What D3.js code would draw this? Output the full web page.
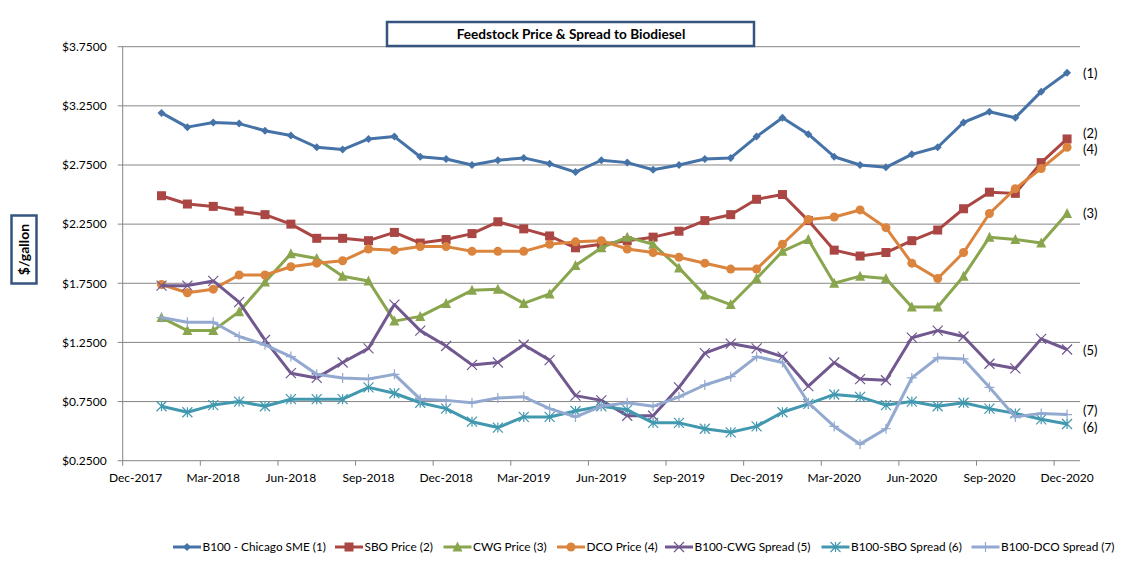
<!DOCTYPE html>
<html>
<head>
<meta charset="utf-8">
<script src="https://cdn.jsdelivr.net/npm/d3@7"></script>
<style>
  html, body { margin: 0; padding: 0; background: #fff; }
  svg { display: block; font-family: Lato, "Open Sans", sans-serif; }
</style>
</head>
<body>
<svg id="chart" width="1141" height="564"></svg>
<script>
// ---------- DATA ----------
const months = ["Jan-2018","Feb-2018","Mar-2018","Apr-2018","May-2018","Jun-2018","Jul-2018","Aug-2018","Sep-2018","Oct-2018","Nov-2018","Dec-2018",
  "Jan-2019","Feb-2019","Mar-2019","Apr-2019","May-2019","Jun-2019","Jul-2019","Aug-2019","Sep-2019","Oct-2019","Nov-2019","Dec-2019",
  "Jan-2020","Feb-2020","Mar-2020","Apr-2020","May-2020","Jun-2020","Jul-2020","Aug-2020","Sep-2020","Oct-2020","Nov-2020","Dec-2020"];

const xTickLabels = ["Dec-2017","Mar-2018","Jun-2018","Sep-2018","Dec-2018","Mar-2019","Jun-2019","Sep-2019","Dec-2019","Mar-2020","Jun-2020","Sep-2020","Dec-2020"];
const yTickValues = [0.25, 0.75, 1.25, 1.75, 2.25, 2.75, 3.25, 3.75];

const b100 = [3.19,3.07,3.11,3.10,3.04,3.00,2.90,2.88,2.97,2.99,2.82,2.80,2.75,2.79,2.81,2.76,2.69,2.79,2.77,2.71,2.75,2.80,2.81,2.99,3.15,3.01,2.82,2.75,2.73,2.84,2.90,3.11,3.20,3.15,3.37,3.53];
const sbo  = [2.49,2.42,2.40,2.36,2.33,2.25,2.13,2.13,2.11,2.18,2.09,2.12,2.17,2.27,2.21,2.15,2.05,2.08,2.11,2.14,2.19,2.28,2.33,2.46,2.50,2.28,2.03,1.98,2.01,2.11,2.20,2.38,2.52,2.51,2.77,2.97];
const cwg  = [1.46,1.35,1.35,1.51,1.76,2.00,1.96,1.81,1.77,1.43,1.47,1.58,1.69,1.70,1.58,1.66,1.90,2.05,2.14,2.08,1.88,1.65,1.57,1.79,2.02,2.12,1.75,1.81,1.79,1.55,1.55,1.81,2.14,2.12,2.09,2.34];
const dco  = [1.74,1.67,1.70,1.82,1.82,1.89,1.92,1.94,2.04,2.03,2.06,2.06,2.02,2.02,2.02,2.08,2.10,2.11,2.04,2.01,1.97,1.92,1.87,1.87,2.08,2.29,2.31,2.37,2.22,1.92,1.79,2.01,2.34,2.55,2.72,2.90];
const spreadCwg = [1.73,1.73,1.77,1.59,1.27,0.99,0.95,1.08,1.20,1.57,1.35,1.22,1.06,1.08,1.23,1.10,0.80,0.76,0.63,0.63,0.87,1.16,1.24,1.20,1.13,0.88,1.08,0.94,0.93,1.29,1.35,1.30,1.07,1.03,1.28,1.19];
const spreadSbo = [0.71,0.66,0.72,0.75,0.71,0.77,0.77,0.77,0.87,0.82,0.74,0.69,0.58,0.53,0.62,0.62,0.67,0.71,0.68,0.57,0.57,0.52,0.49,0.54,0.66,0.73,0.81,0.79,0.72,0.75,0.71,0.74,0.69,0.65,0.60,0.56];
const spreadDco = [1.46,1.42,1.42,1.30,1.23,1.13,0.98,0.95,0.94,0.98,0.77,0.76,0.74,0.78,0.79,0.69,0.62,0.71,0.74,0.71,0.79,0.89,0.96,1.13,1.08,0.74,0.54,0.39,0.52,0.95,1.12,1.11,0.87,0.62,0.65,0.64];

const seriesNames = ["B100 - Chicago SME (1)","SBO Price (2)","CWG Price (3)","DCO Price (4)","B100-CWG Spread (5)","B100-SBO Spread (6)","B100-DCO Spread (7)"];
const endLabels = ["(1)","(2)","(3)","(4)","(5)","(6)","(7)"];

// ---------- STYLE ----------
const colors = ["#4572A7","#AA4643","#89A54E","#DB843D","#71588F","#4198AF","#93A9CF"];
const markers = ["diamond","square","triangle","circle","x","asterisk","plus"];
const seriesData = [b100, sbo, cwg, dco, spreadCwg, spreadSbo, spreadDco];

const svg = d3.select("#chart");
const pLeft = 122.7, pRight = 1080, pTop = 46.7, pBottom = 460.7;

// month index: -1 = start of Dec-2017; data point i sits in the middle of month i
const x = d3.scaleLinear().domain([-1, 36]).range([pLeft, pRight]);
const y = d3.scaleLinear().domain([0.25, 3.75]).range([pBottom, pTop]);

const tickIdx = xTickLabels.map((d, i) => -1 + 3 * i);

// gridlines
svg.append("g").selectAll("line").data(yTickValues).join("line")
  .attr("x1", pLeft - 5).attr("x2", pRight)
  .attr("y1", d => y(d)).attr("y2", d => y(d))
  .attr("stroke", "#868686").attr("stroke-width", 1);

// y axis line
svg.append("line").attr("x1", pLeft).attr("x2", pLeft).attr("y1", pTop).attr("y2", pBottom)
  .attr("stroke", "#868686").attr("stroke-width", 1);

// y axis labels via d3 axis
const yAxis = d3.axisLeft(y).tickValues(yTickValues).tickFormat(d => "$" + d.toFixed(4)).tickSize(0).tickPadding(16);
const gy = svg.append("g").attr("transform", `translate(${pLeft},0)`).call(yAxis);
gy.select(".domain").remove();
gy.selectAll("text").attr("font-size", 12).attr("fill", "#000").attr("font-family", "Lato, sans-serif");

// x ticks
svg.append("g").selectAll("line").data(tickIdx).join("line")
  .attr("x1", d => x(d)).attr("x2", d => x(d))
  .attr("y1", pBottom).attr("y2", pBottom + 5)
  .attr("stroke", "#868686");
svg.append("g").selectAll("text").data(xTickLabels).join("text")
  .attr("x", (d, i) => x(tickIdx[i] + 0.5))
  .attr("y", 482)
  .attr("text-anchor", "middle")
  .attr("font-size", 12)
  .attr("fill", "#000")
  .text(d => d);

// marker drawing
function drawMarker(g, type, color, size) {
  const s = size / 2;
  if (type === "diamond") {
    g.append("path").attr("d", `M0,${-s}L${s},0L0,${s}L${-s},0Z`).attr("fill", color);
  } else if (type === "square") {
    g.append("rect").attr("x", -s).attr("y", -s).attr("width", size).attr("height", size).attr("fill", color);
  } else if (type === "triangle") {
    g.append("path").attr("d", `M0,${-s - 1}L${s + 0.5},${s}L${-s - 0.5},${s}Z`).attr("fill", color);
  } else if (type === "circle") {
    g.append("circle").attr("r", s).attr("fill", color);
  } else if (type === "x") {
    g.append("path").attr("d", `M${-s},${-s}L${s},${s}M${-s},${s}L${s},${-s}`).attr("stroke", color).attr("stroke-width", 1.2).attr("fill", "none");
  } else if (type === "asterisk") {
    g.append("path").attr("d", `M${-s},${-s}L${s},${s}M${-s},${s}L${s},${-s}M0,${-s}L0,${s}`).attr("stroke", color).attr("stroke-width", 1.2).attr("fill", "none");
  } else if (type === "plus") {
    g.append("path").attr("d", `M${-s},0L${s},0M0,${-s}L0,${s}`).attr("stroke", color).attr("stroke-width", 1.2).attr("fill", "none");
  }
}
const markerSize = [8, 9, 9, 9, 10, 10, 10];

const line = d3.line().x((d, i) => x(i + 0.5)).y(d => y(d));

seriesData.forEach((data, k) => {
  const g = svg.append("g");
  g.append("path").datum(data).attr("d", line)
    .attr("fill", "none").attr("stroke", colors[k]).attr("stroke-width", 3).attr("stroke-linejoin", "round");
  const mg = g.append("g");
  data.forEach((v, i) => {
    const m = mg.append("g").attr("transform", `translate(${x(i + 0.5)},${y(v)})`);
    drawMarker(m, markers[k], colors[k], markerSize[k]);
  });
});

// end labels
const endYs = [73, 133.5, 213.5, 149.5, 350, 427.5, 410.5];
endLabels.forEach((t, k) => {
  svg.append("text").attr("x", 1083).attr("y", endYs[k]).attr("dy", "0.35em")
    .attr("font-size", 13).attr("fill", "#000").text(t);
});

// title box
svg.append("rect").attr("x", 387).attr("y", 22).attr("width", 367).attr("height", 24)
  .attr("fill", "#fff").attr("stroke", "#35557F").attr("stroke-width", 2.5);
svg.append("text").attr("x", 571).attr("y", 34.5).attr("dy", "0.35em")
  .attr("text-anchor", "middle").attr("font-size", 13.6).attr("font-weight", "bold").attr("fill", "#000")
  .text("Feedstock Price & Spread to Biodiesel");

// y axis title box
svg.append("rect").attr("x", 11.5).attr("y", 215.5).attr("width", 25).attr("height", 68)
  .attr("fill", "#fff").attr("stroke", "#35557F").attr("stroke-width", 2.5);
svg.append("text").attr("transform", "translate(24.5,249.5) rotate(-90)").attr("dy", "0.35em")
  .attr("text-anchor", "middle").attr("font-size", 14).attr("font-weight", "bold").attr("fill", "#000")
  .text("$/gallon");

// legend
const legendX = [173, 335, 443.5, 557, 665, 821.5, 971.5];
const legendY = 547;
seriesNames.forEach((name, k) => {
  const g = svg.append("g").attr("transform", `translate(${legendX[k]},${legendY})`);
  g.append("line").attr("x1", 0).attr("x2", 28).attr("stroke", colors[k]).attr("stroke-width", 3);
  const m = g.append("g").attr("transform", "translate(14,0)");
  drawMarker(m, markers[k], colors[k], markerSize[k]);
  g.append("text").attr("x", 29.5).attr("dy", "0.35em").attr("font-size", 11.8).attr("fill", "#000").text(name);
});
</script>
</body>
</html>
